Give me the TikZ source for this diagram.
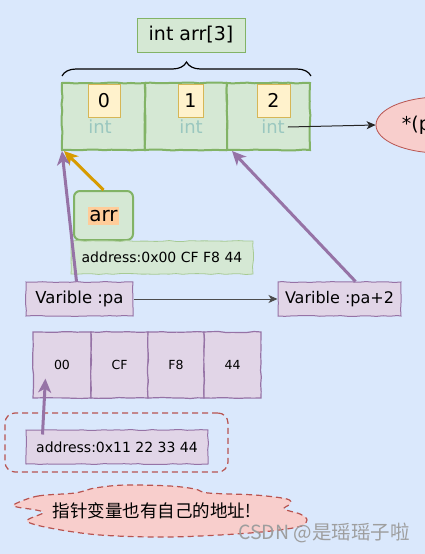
\documentclass[tikz,border=0pt]{standalone}
\usepackage{fontspec}
\setmainfont{DejaVu Sans}
\newfontfamily\cjk{Noto Sans CJK SC}
\usetikzlibrary{shapes.geometric,arrows.meta,decorations.pathreplacing,decorations.pathmorphing,calc}
\definecolor{bgc}{HTML}{DAE8FC}
\definecolor{gfill}{HTML}{D5E8D4}
\definecolor{gline}{HTML}{82B366}
\definecolor{yfill}{HTML}{FFF2CC}
\definecolor{yline}{HTML}{D6B656}
\definecolor{pfill}{HTML}{E1D5E7}
\definecolor{pline}{HTML}{9673A6}
\definecolor{rfill}{HTML}{F8CECC}
\definecolor{rline}{HTML}{B85450}
\definecolor{oline}{HTML}{D79B00}
\definecolor{ohl}{HTML}{FFCC99}
\definecolor{inttxt}{HTML}{9AC7BF}
\newcommand{\fs}[1]{\fontsize{#1}{#1}\selectfont}
\tikzset{
  sketch/.style={decorate,decoration={random steps,segment length=7pt,amplitude=0.5pt}},
  greenbox/.style={draw=gline,fill=gfill,line width=1pt,inner sep=0pt,text=black},
  cellbox/.style={draw=gline,fill=gfill,line width=2pt,inner sep=0pt,sketch},
  yelbox/.style={draw=yline,fill=yfill,line width=1pt,inner sep=0pt,font=\fs{19}},
  inttext/.style={text=inttxt,font=\fs{18},inner sep=0pt},
  purbox/.style={draw=pline,fill=pfill,line width=1pt,inner sep=0pt,sketch},
  bytebox/.style={draw=pline,fill=pfill,line width=1.2pt,inner sep=0pt,font=\fs{12.5},sketch},
  thickarrow/.style={line width=3pt,-{Stealth[length=14pt,width=13pt,inset=4pt]}},
  thinarrow/.style={line width=1pt,-{Stealth[length=9pt,width=8pt,inset=2.5pt]}},
  dashline/.style={draw=rline,line width=1.2pt,dash pattern=on 6pt off 4pt},
}
\begin{document}
\begin{tikzpicture}[x=1pt,y=-1pt]
\fill[bgc] (0,0) rectangle (425,554);
\useasboundingbox (0,0) rectangle (425,554);
\pgfmathsetseed{7}
% title
\node[greenbox,minimum width=108pt,minimum height=34pt,font=\fs{19}] (title) at (191,35) {int arr[3]};
% brace
\coordinate (bl) at (62,76);
\coordinate (br) at (311,76);
\draw[line width=1.2pt,decorate,decoration={brace,amplitude=14pt}] (bl) -- (br);
% cells
\node[cellbox,minimum width=83pt,minimum height=67pt] (c0) at (103.5,116.5) {};
\node[cellbox,minimum width=82pt,minimum height=67pt] (c1) at (186,116.5) {};
\node[cellbox,minimum width=83pt,minimum height=67pt] (c2) at (268.5,116.5) {};
\node[yelbox,minimum width=32pt,minimum height=33pt] (y0) at (104,100.5) {0};
\node[yelbox,minimum width=25pt,minimum height=33pt] (y1) at (190.5,100.5) {1};
\node[yelbox,minimum width=33pt,minimum height=33pt] (y2) at (273.5,100.5) {2};
\node[inttext] (t0) at (100,127) {int};
\node[inttext] (t1) at (191,127) {int};
\node[inttext] (t2) at (273,127) {int};
% ellipse
\node[ellipse,draw=rline,fill=rfill,line width=0.8pt,minimum width=128pt,minimum height=56pt,font=\fs{19}] (deref) at (440,125) {*(pa+2)};
\draw[thinarrow,black!85] ($(t2.east)+(3,0)$) -- (deref.west);
% arr box
\node[draw=gline,fill=gfill,line width=2pt,rounded corners=6pt,minimum width=59pt,minimum height=49pt,inner sep=0pt] (arrbox) at (103.5,215.5) {};
\node[fill=ohl,inner xsep=1.5pt,inner ysep=3pt,font=\fs{20}] (arrtxt) at (103.5,216) {arr};
\node[draw=gline!70,fill=gfill,line width=0.8pt,minimum width=182pt,minimum height=33pt,inner sep=0pt,font=\fs{14},sketch] (addr1) at (162,257.5) {address:0x00 CF F8 44};
% variables
\node[purbox,minimum width=107pt,minimum height=34pt,font=\fs{16.5}] (pa) at (79.5,299) {Varible :pa};
\node[purbox,minimum width=123pt,minimum height=34pt,font=\fs{16}] (pa2) at (339.5,299) {Varible :pa+2};
% arrows to array
\draw[thickarrow,oline] (arrbox.north) -- ($(c0.south west)+(3,0)$);
\draw[thickarrow,pline] ($(pa.north west)+(51,0)$) -- ($(c0.south west)+(1,0)$);
\draw[thickarrow,pline] ($(pa2.north)+(16,0)$) -- ($(c1.south east)+(4,0)$);
\draw[thinarrow,black!70] (pa.east) -- (pa2.west);
% bytes
\node[bytebox,minimum width=58pt,minimum height=66pt] (b0) at (62,365) {00};
\node[bytebox,minimum width=57pt,minimum height=66pt] (b1) at (119.5,365) {CF};
\node[bytebox,minimum width=56pt,minimum height=66pt] (b2) at (176,365) {F8};
\node[bytebox,minimum width=57pt,minimum height=66pt] (b3) at (232.5,365) {44};
% dashed group
\node[dashline,rounded corners=10pt,minimum width=223pt,minimum height=59pt,inner sep=0pt] (grp) at (116.5,442.5) {};
\node[purbox,minimum width=182pt,minimum height=34pt,font=\fs{14}] (addr2) at (117,447) {address:0x11 22 33 44};
\draw[thickarrow,pline] ($(addr2.north west)+(17,5)$) -- ($(b0.south west)+(13,-20)$);
% cloud
\draw[dashline,fill=rfill] plot[smooth cycle,tension=0.55] coordinates {
  (15,504) (38,496) (75,493) (95,488) (125,485) (170,486) (195,489) (208,493)
  (255,495) (287,499) (290,504) (284,509) (300,514) (307,520) (298,527)
  (250,533) (170,537) (100,535) (50,528) (27,521) (43,513) (36,510) (17,507)};
\node[font=\cjk\fs{17.5},inner sep=0pt] (note) at (152,511) {指针变量也有自己的地址!};
% watermark
\node[text=black!38,font=\cjk\fs{19.5},inner sep=0pt] (wm) at (324,533) {CSDN @是瑶瑶子啦};
\end{tikzpicture}
\end{document}
